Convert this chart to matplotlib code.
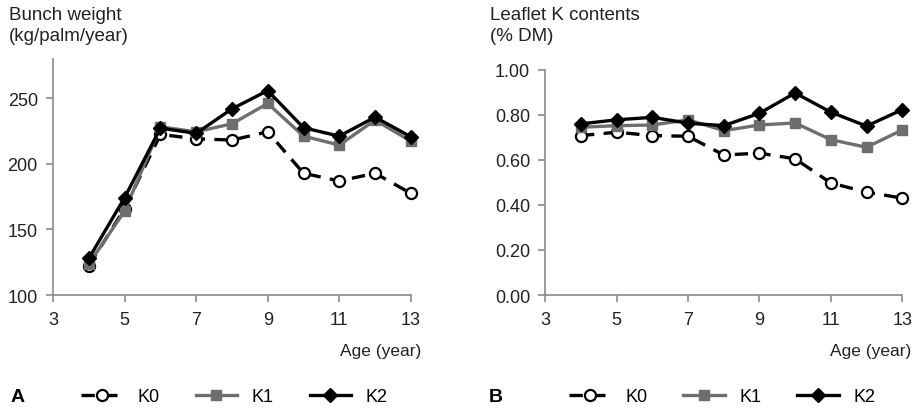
import matplotlib
matplotlib.use("Agg")
import matplotlib.pyplot as plt

plt.rcParams['font.family'] = ['Liberation Sans', 'DejaVu Sans']

# data
age = [4, 5, 6, 7, 8, 9, 10, 11, 12, 13]

bunch_k0 = [122.3, 165.9, 222.4, 219.1, 218.1, 224.4, 192.8, 186.9, 192.8, 177.5]
bunch_k1 = [123.6, 164.1, 228.2, 224.4, 230.5, 246.0, 221.1, 214.3, 233.3, 217.3]
bunch_k2 = [127.9, 174.2, 227.2, 223.2, 241.9, 255.8, 227.5, 221.1, 235.6, 220.6]

leaf_k0 = [0.707, 0.722, 0.707, 0.704, 0.621, 0.629, 0.604, 0.497, 0.456, 0.430]
leaf_k1 = [0.744, 0.751, 0.754, 0.777, 0.729, 0.754, 0.763, 0.689, 0.655, 0.732]
leaf_k2 = [0.759, 0.777, 0.788, 0.762, 0.751, 0.806, 0.896, 0.811, 0.749, 0.822]

x_ticks = [3, 5, 7, 9, 11, 13]
bunch_ticks = [100, 150, 200, 250]
leaf_ticks = [0.0, 0.2, 0.4, 0.6, 0.8, 1.0]

gray = '#6e6e6e'
axis_col = '#8a8a8a'
txt_col = '#222222'

fig = plt.figure(figsize=(9.15, 4.10), dpi=100)
axA = fig.add_axes([0.058, 0.278, 0.391, 0.576])
axB = fig.add_axes([0.596, 0.278, 0.390, 0.550])


def draw(ax, k0, k1, k2, leg_x):
    ax.plot(age, k0, color='black', lw=2.4, dashes=(4, 2.8), marker='o',
            ms=8, mfc='white', mec='black', mew=1.6, label='K0', zorder=3,
            clip_on=False)
    ax.plot(age, k1, color=gray, lw=2.4, marker='s', ms=7,
            mfc=gray, mec=gray, label='K1', zorder=4, clip_on=False)
    ax.plot(age, k2, color='black', lw=2.4, marker='D', ms=7.5,
            mfc='black', mec='black', label='K2', zorder=5, clip_on=False)
    ax.set_xlim(3, 13)
    ax.set_xticks(x_ticks)
    for s in ['top', 'right']:
        ax.spines[s].set_visible(False)
    for s in ['left', 'bottom']:
        ax.spines[s].set_color(axis_col)
        ax.spines[s].set_linewidth(1.2)
    ax.tick_params(colors=axis_col, labelcolor=txt_col, labelsize=13,
                   length=5, width=1.2, direction='out')
    ax.tick_params(axis='x', pad=6.5)
    ax.tick_params(axis='y', pad=6)
    h, l = ax.get_legend_handles_labels()
    fig.legend(h, l, loc='center left', bbox_to_anchor=(leg_x, 0.030), ncol=3,
               frameon=False, fontsize=13, handlelength=2.3,
               columnspacing=2.0, handletextpad=0.8, borderaxespad=0,
               borderpad=0)


draw(axA, bunch_k0, bunch_k1, bunch_k2, 0.089)
axA.set_ylim(100, 280)
axA.set_yticks(bunch_ticks)

draw(axB, leaf_k0, leaf_k1, leaf_k2, 0.622)
axB.set_ylim(0, 1.0)
axB.set_yticks(leaf_ticks)
axB.set_yticklabels(['%.2f' % v for v in leaf_ticks])

fig.text(0.010, 0.962, 'Bunch weight', fontsize=13.5, va='center', color=txt_col)
fig.text(0.010, 0.912, '(kg/palm/year)', fontsize=13.5, va='center', color=txt_col)
fig.text(0.535, 0.962, 'Leaflet K contents', fontsize=13.5, va='center', color=txt_col)
fig.text(0.535, 0.912, '(% DM)', fontsize=13.5, va='center', color=txt_col)

fig.text(0.460, 0.142, 'Age (year)', fontsize=12.5, ha='right', va='center', color=txt_col)
fig.text(0.996, 0.142, 'Age (year)', fontsize=12.5, ha='right', va='center', color=txt_col)

fig.text(0.011, 0.030, 'A', fontsize=14, fontweight='bold', va='center')
fig.text(0.534, 0.030, 'B', fontsize=14, fontweight='bold', va='center')

fig.savefig('out.png', dpi=100)
